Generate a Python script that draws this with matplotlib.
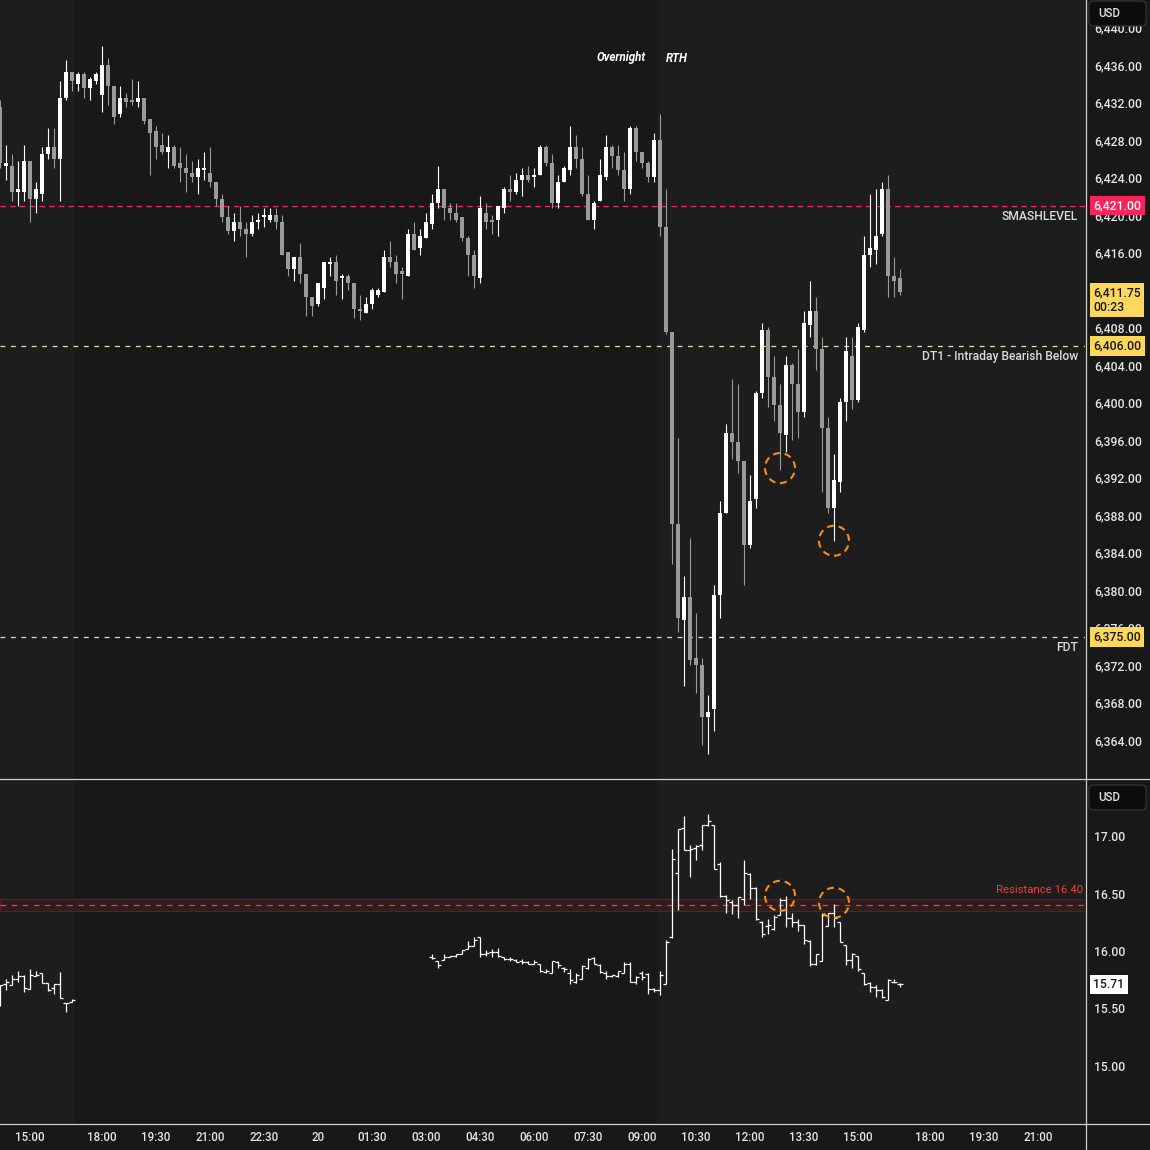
import numpy as np
import pandas as pd
import matplotlib
matplotlib.use('Agg')
import matplotlib.pyplot as plt
from matplotlib.patches import Ellipse, FancyBboxPatch
from matplotlib.lines import Line2D
from matplotlib.ticker import FuncFormatter

plt.rcParams['font.family'] = ['Roboto', 'DejaVu Sans']
plt.rcParams['lines.scale_dashes'] = False

# ---------------- data ----------------
# 10 minute bars, first bar 19 Aug 14:10, no bars during the 17:00-18:00 break
bar_start = '2025-08-19 14:10'
bar_end = '2025-08-20 22:00'

es_open = [6431.5, 6425.25, 6425.25, 6422.5, 6422.5, 6425.75, 6421.75, 6422.25, 6426.5, 6427.25,
           6426.0, 6432.5, 6435.25, 6434.0, 6435.0, 6433.5, 6434.25, 6432.75, 6436.0, 6433.75,
           6430.75, 6432.5, 6432.25, 6432.0, 6432.5, 6430.25, 6429.0, 6427.5, 6426.75, 6427.25,
           6425.5, 6425.0, 6424.5, 6424.0, 6424.75, 6424.5, 6423.5, 6421.75, 6419.75, 6418.25,
           6419.25, 6418.5, 6418.0, 6419.25, 6419.75, 6419.5, 6420.0, 6419.25, 6416.0, 6414.25,
           6415.5, 6413.75, 6411.25, 6410.5, 6412.25, 6414.75, 6415.0, 6413.25, 6413.5, 6412.75,
           6410.0, 6409.5, 6410.5, 6411.5, 6411.75, 6415.5, 6415.0, 6414.0, 6413.5, 6418.0,
           6416.5, 6417.5, 6419.0, 6421.25, 6422.75, 6420.75, 6420.25, 6419.75, 6417.5, 6415.75,
           6413.25, 6420.25, 6419.5, 6419.5, 6420.75, 6422.75, 6422.5, 6423.75, 6424.25, 6424.0,
           6424.25, 6427.25, 6425.5, 6421.25, 6423.5, 6424.75, 6427.25, 6426.0, 6422.25, 6419.5,
           6421.5, 6424.0, 6427.25, 6426.25, 6424.75, 6422.75, 6429.25, 6426.75, 6425.5, 6424.0,
           6428.0, 6418.75, 6407.5, 6387.0, 6376.75, 6379.25, 6372.75, 6372.0, 6366.5, 6367.25,
           6379.5, 6388.25, 6396.75, 6395.75, 6393.75, 6384.75, 6389.75, 6401.0, 6407.75, 6402.75,
           6399.75, 6396.5, 6404.0, 6402.0, 6399.0, 6408.25, 6409.75, 6405.75, 6397.25, 6388.75,
           6391.5, 6400.0, 6405.0, 6400.25, 6407.75, 6415.75, 6416.25, 6418.0, 6422.75, 6413.5,
           6413.25]
es_high = [6432.25, 6427.5, 6426.5, 6425.75, 6427.5, 6425.75, 6423.5, 6427.25, 6429.25, 6429.25,
           6434.25, 6436.5, 6435.25, 6435.25, 6435.25, 6434.75, 6435.25, 6438.0, 6436.75, 6433.75,
           6433.75, 6433.0, 6434.5, 6434.25, 6432.5, 6430.25, 6429.5, 6428.75, 6428.5, 6427.5,
           6427.25, 6426.5, 6425.75, 6426.0, 6426.75, 6427.25, 6423.5, 6422.25, 6421.0, 6420.25,
           6421.0, 6419.25, 6420.0, 6420.25, 6420.75, 6420.75, 6420.75, 6420.0, 6416.0, 6415.5,
           6417.0, 6413.75, 6411.25, 6412.75, 6415.0, 6415.5, 6415.75, 6413.75, 6413.75, 6412.75,
           6411.5, 6411.25, 6412.25, 6412.25, 6416.25, 6417.25, 6415.75, 6414.5, 6418.5, 6419.25,
           6418.5, 6420.25, 6422.25, 6425.25, 6422.75, 6421.25, 6421.25, 6419.75, 6417.75, 6416.25,
           6422.0, 6421.25, 6420.0, 6421.0, 6423.0, 6424.25, 6424.5, 6425.0, 6425.25, 6425.0,
           6427.5, 6427.5, 6426.5, 6424.25, 6425.25, 6429.5, 6428.5, 6427.25, 6424.25, 6421.5,
           6426.0, 6428.5, 6427.5, 6427.5, 6426.75, 6429.5, 6429.5, 6426.75, 6425.75, 6428.75,
           6430.75, 6422.75, 6407.5, 6396.25, 6381.5, 6385.5, 6377.5, 6372.75, 6368.75, 6380.5,
           6389.5, 6397.75, 6402.5, 6402.0, 6393.75, 6392.25, 6401.25, 6408.5, 6408.0, 6405.0,
           6402.0, 6405.0, 6404.25, 6405.75, 6409.75, 6413.0, 6411.25, 6407.0, 6398.5, 6394.5,
           6400.5, 6407.0, 6407.0, 6408.5, 6417.75, 6422.25, 6422.75, 6423.5, 6424.25, 6415.5,
           6414.25]
es_low = [6425.0, 6423.75, 6421.5, 6421.0, 6421.5, 6419.25, 6420.25, 6421.5, 6426.0, 6425.0,
          6421.5, 6432.25, 6433.25, 6433.25, 6432.5, 6432.25, 6434.0, 6431.0, 6431.75, 6429.75,
          6430.5, 6431.5, 6431.75, 6431.5, 6429.75, 6424.25, 6426.0, 6426.5, 6425.0, 6425.0,
          6423.5, 6422.5, 6423.5, 6422.25, 6423.75, 6423.0, 6421.0, 6419.25, 6418.0, 6417.25,
          6417.75, 6415.5, 6417.75, 6418.5, 6418.75, 6419.25, 6418.5, 6415.75, 6413.5, 6413.0,
          6412.75, 6409.25, 6409.25, 6410.25, 6411.0, 6413.5, 6411.5, 6411.0, 6412.0, 6409.0,
          6408.75, 6409.5, 6410.0, 6411.25, 6411.75, 6414.5, 6412.75, 6411.0, 6413.5, 6416.25,
          6415.75, 6417.5, 6418.5, 6420.75, 6419.5, 6419.5, 6419.25, 6417.25, 6413.5, 6412.25,
          6412.75, 6418.5, 6418.0, 6417.75, 6420.25, 6421.5, 6422.25, 6422.0, 6423.5, 6423.0,
          6424.25, 6425.25, 6420.75, 6420.75, 6423.5, 6424.25, 6425.0, 6422.0, 6419.5, 6418.5,
          6421.5, 6423.75, 6425.0, 6424.25, 6421.5, 6422.25, 6425.75, 6425.0, 6423.5, 6423.5,
          6417.75, 6407.25, 6382.75, 6375.5, 6369.75, 6372.0, 6369.0, 6363.5, 6362.5, 6365.0,
          6377.0, 6388.25, 6394.0, 6392.5, 6380.5, 6384.5, 6388.75, 6400.5, 6399.5, 6398.0,
          6392.75, 6394.75, 6396.0, 6396.25, 6398.5, 6407.0, 6403.5, 6390.5, 6388.25, 6385.25,
          6390.5, 6398.0, 6399.25, 6400.0, 6407.5, 6414.5, 6414.75, 6417.75, 6411.25, 6411.25,
          6411.5]
es_close = [6425.5, 6425.5, 6422.5, 6422.75, 6425.75, 6421.75, 6422.75, 6426.5, 6427.25, 6426.0,
            6432.5, 6435.25, 6434.25, 6435.0, 6433.5, 6434.5, 6435.0, 6436.0, 6433.75, 6430.5,
            6432.5, 6432.0, 6432.0, 6432.5, 6430.0, 6428.75, 6427.25, 6426.75, 6427.25, 6425.25,
            6425.0, 6424.5, 6424.0, 6425.0, 6425.0, 6423.5, 6421.75, 6419.75, 6418.25, 6419.25,
            6418.5, 6418.0, 6419.25, 6419.5, 6420.0, 6420.0, 6419.25, 6415.75, 6414.25, 6415.5,
            6413.75, 6411.25, 6410.25, 6412.75, 6415.0, 6415.0, 6413.0, 6413.5, 6412.75, 6410.0,
            6409.75, 6410.5, 6412.0, 6412.0, 6415.5, 6415.0, 6413.75, 6413.75, 6418.0, 6416.25,
            6417.75, 6419.25, 6421.25, 6422.75, 6420.75, 6420.25, 6419.5, 6417.5, 6415.75, 6413.5,
            6420.75, 6419.25, 6419.25, 6421.0, 6422.75, 6422.5, 6423.75, 6424.25, 6423.75, 6424.25,
            6427.25, 6425.5, 6421.25, 6423.5, 6425.0, 6427.25, 6426.0, 6422.25, 6419.5, 6421.25,
            6424.25, 6427.25, 6426.25, 6424.75, 6422.75, 6429.25, 6426.75, 6425.5, 6424.0, 6428.0,
            6418.75, 6407.5, 6387.0, 6377.0, 6379.25, 6372.5, 6372.0, 6366.5, 6367.0, 6379.5,
            6388.25, 6396.75, 6395.75, 6393.75, 6384.75, 6389.5, 6401.0, 6407.75, 6402.75, 6399.75,
            6396.75, 6404.0, 6402.0, 6399.0, 6408.5, 6409.75, 6405.75, 6397.25, 6388.75, 6391.75,
            6400.0, 6405.5, 6400.25, 6408.0, 6415.75, 6416.5, 6417.75, 6422.75, 6413.5, 6413.0,
            6411.75]

# volatility index, same bar clock; no prints between 16:20 and 03:10
gap = [np.nan] * 59
vix_open = ([15.60, 15.71, 15.70, 15.76, 15.78, 15.67, 15.78, 15.81, 15.72, 15.68, 15.71, 15.55, 15.56]
            + gap +
            [15.95, 15.91, 15.92, 15.95, 15.96, 15.97, 16.02, 16.04, 16.12, 15.97, 15.99, 15.99, 15.95,
             15.93, 15.92, 15.91, 15.90, 15.89, 15.89, 15.82, 15.81, 15.90, 15.85, 15.81, 15.73, 15.76,
             15.85, 15.94, 15.88, 15.81, 15.78, 15.78, 15.81, 15.89, 15.73, 15.81, 15.80, 15.67, 15.66,
             15.71, 16.12, 16.68, 17.07, 16.88, 16.90, 16.92, 17.10, 17.10, 16.76, 16.48, 16.43, 16.40,
             16.45, 16.67, 16.55, 16.25, 16.22, 16.19, 16.31, 16.44, 16.29, 16.25, 16.23, 16.09, 15.89,
             15.91, 16.22, 16.33, 16.25, 16.05, 15.92, 15.96, 15.81, 15.72, 15.69, 15.66, 15.57, 15.73,
             15.71])
vix_high = ([15.70, 15.76, 15.79, 15.83, 15.79, 15.84, 15.83, 15.81, 15.72, 15.71, 15.82, 15.55, 15.58]
            + gap +
            [15.97, 15.91, 15.97, 15.96, 15.97, 16.01, 16.09, 16.12, 16.12, 16.01, 16.02, 16.03, 15.95,
             15.95, 15.93, 15.93, 15.91, 15.92, 15.89, 15.84, 15.91, 15.91, 15.86, 15.84, 15.81, 15.88,
             15.94, 15.95, 15.89, 15.83, 15.79, 15.83, 15.90, 15.90, 15.78, 15.83, 15.81, 15.68, 15.83,
             16.10, 16.89, 17.06, 17.17, 16.92, 16.92, 17.10, 17.19, 17.10, 16.77, 16.49, 16.44, 16.47,
             16.79, 16.68, 16.56, 16.26, 16.28, 16.31, 16.46, 16.48, 16.33, 16.28, 16.23, 16.10, 15.97,
             16.33, 16.33, 16.41, 16.25, 16.05, 15.98, 15.96, 15.81, 15.73, 15.70, 15.67, 15.76, 15.76,
             15.72])
vix_low = ([15.52, 15.66, 15.70, 15.73, 15.64, 15.67, 15.78, 15.72, 15.65, 15.63, 15.59, 15.47, 15.56]
           + gap +
           [15.93, 15.85, 15.92, 15.95, 15.95, 15.97, 16.02, 16.04, 15.95, 15.96, 15.95, 15.95, 15.92,
            15.91, 15.90, 15.89, 15.89, 15.89, 15.82, 15.81, 15.81, 15.85, 15.82, 15.71, 15.72, 15.76,
            15.84, 15.89, 15.81, 15.76, 15.77, 15.77, 15.81, 15.73, 15.71, 15.75, 15.63, 15.64, 15.62,
            15.71, 16.11, 16.36, 16.88, 16.64, 16.79, 16.88, 17.09, 16.71, 16.47, 16.33, 16.32, 16.29,
            16.40, 16.45, 16.27, 16.12, 16.15, 16.18, 16.31, 16.21, 16.21, 16.17, 16.06, 15.87, 15.88,
            15.91, 16.22, 16.21, 16.08, 15.88, 15.85, 15.83, 15.70, 15.64, 15.60, 15.59, 15.57, 15.72,
            15.69])
vix_close = ([15.70, 15.73, 15.76, 15.78, 15.68, 15.79, 15.79, 15.72, 15.66, 15.71, 15.59, 15.55, 15.57]
             + gap +
             [15.94, 15.88, 15.95, 15.96, 15.97, 16.01, 16.04, 16.10, 15.97, 15.98, 15.99, 15.96, 15.93,
              15.93, 15.90, 15.90, 15.89, 15.90, 15.83, 15.83, 15.91, 15.88, 15.84, 15.75, 15.79, 15.87,
              15.93, 15.89, 15.82, 15.78, 15.79, 15.83, 15.89, 15.73, 15.77, 15.77, 15.67, 15.66, 15.79,
              16.08, 16.80, 17.06, 16.88, 16.89, 16.91, 17.10, 17.13, 16.71, 16.48, 16.44, 16.40, 16.47,
              16.68, 16.55, 16.28, 16.15, 16.23, 16.30, 16.44, 16.29, 16.25, 16.23, 16.10, 15.89, 15.97,
              16.31, 16.33, 16.29, 16.08, 15.92, 15.97, 15.84, 15.71, 15.69, 15.66, 15.60, 15.75, 15.73,
              15.71])

levels = [6421.0, 6406.0, 6375.0]
level_names = ['SMASHLEVEL', 'DT1 - Intraday Bearish Below', 'FDT']
resistance = 16.40
resistance_band = (16.35, 16.45)

last_price = 6411.75
countdown = '00:23'
last_vix = 15.71

# marked swing points (time, price / vix)
marks_time = ['2025-08-20 12:50', '2025-08-20 14:20']
marks_es = [6393.0, 6385.25]
marks_vix = [16.48, 16.42]

# price scale labels (6,412.00 sits fully under the last price tag)
price_ticks = [6364, 6368, 6372, 6376, 6380, 6384, 6388, 6392, 6396, 6400, 6404, 6408,
               6416, 6420, 6424, 6428, 6432, 6436, 6440]
vix_ticks = [15.0, 15.5, 16.0, 16.5, 17.0]

tick_times = ['2025-08-19 15:00', '2025-08-19 18:00', '2025-08-19 19:30', '2025-08-19 21:00',
              '2025-08-19 22:30', '2025-08-20 00:00', '2025-08-20 01:30', '2025-08-20 03:00',
              '2025-08-20 04:30', '2025-08-20 06:00', '2025-08-20 07:30', '2025-08-20 09:00',
              '2025-08-20 10:30', '2025-08-20 12:00', '2025-08-20 13:30', '2025-08-20 15:00',
              '2025-08-20 18:00', '2025-08-20 19:30', '2025-08-20 21:00']
tick_labels = ['15:00', '18:00', '19:30', '21:00', '22:30', '20', '01:30', '03:00', '04:30',
               '06:00', '07:30', '09:00', '10:30', '12:00', '13:30', '15:00', '18:00', '19:30', '21:00']

# ---------------- style ----------------
BG = '#181818'
RTH_BG = '#1d1d1d'
TICK = '#e4e4e4'
LABEL = '#dadada'
UP = '#ffffff'
DOWN = '#9a9a9a'
PINK = '#f7245a'
YELLOW = '#fdd85d'
PALE = '#e9dea6'
ORANGE = '#ff8a14'
WEIGHT = 'medium'

clock = pd.date_range(bar_start, bar_end, freq='10min')
clock = clock[clock.hour != 17]
pos = pd.Series(np.arange(len(clock)), index=clock)

W, H = 1150, 1150
fig = plt.figure(figsize=(11.5, 11.5), dpi=100, facecolor=BG)


def frame(l, t, r, b):
    return [l / W, 1 - b / H, (r - l) / W, (b - t) / H]


ax = fig.add_axes(frame(0, 0, 1085, 778))
ax2 = fig.add_axes(frame(0, 779, 1085, 1123))
xmax = 1085 / 6
for a in (ax, ax2):
    a.set_facecolor(BG)
    a.set_xlim(0, xmax)
    for s in a.spines.values():
        s.set_visible(False)
    # regular trading hours get the lighter background
    a.axvspan(0, pos['2025-08-19 16:20'] - 0.5, color=RTH_BG, lw=0, zorder=0)
    a.axvspan(pos['2025-08-20 09:30'] - 0.5, xmax, color=RTH_BG, lw=0, zorder=0)

ax.set_ylim(6359.94, 6442.93)
ax2.set_ylim(14.504, 17.496)

# ---- candles
o, h, l, c = (np.array(v) for v in (es_open, es_high, es_low, es_close))
x = np.arange(len(o))
col = np.where(c >= o, UP, DOWN)
ax.vlines(x, l, h, colors=col, lw=0.8, zorder=3)
ax.bar(x, np.maximum(np.abs(c - o), 0.12), bottom=np.minimum(o, c), width=0.82,
       color=col, lw=0, zorder=3)

# ---- levels
level_colors = [PINK, PALE, PALE]
level_dash = [(4, 3), (3.5, 4), (3.5, 4)]
for lv, name, lc, ds in zip(levels, level_names, level_colors, level_dash):
    ax.axhline(lv, color=lc, lw=0.9, dashes=ds, zorder=2)
    ax.annotate(name, xy=(1, lv), xycoords=ax.get_yaxis_transform(), xytext=(-7, -4),
                textcoords='offset pixels', ha='right', va='top', fontsize=8.7, color=LABEL,
                fontweight=WEIGHT, zorder=6)

# ---- volatility bars
vo, vh, vl, vc = (np.array(v, dtype=float) for v in (vix_open, vix_high, vix_low, vix_close))
vx = np.arange(len(vo))
ok = ~np.isnan(vo)
ax2.vlines(vx[ok], vl[ok], vh[ok], color='white', lw=0.9, zorder=3)
ax2.hlines(vo[ok], vx[ok] - 0.45, vx[ok], color='white', lw=0.9, zorder=3)
ax2.hlines(vc[ok], vx[ok], vx[ok] + 0.45, color='white', lw=0.9, zorder=3)

ax2.axhspan(*resistance_band, fc='#311c1c', ec='#552323', lw=0.8, zorder=1)
ax2.axhline(resistance, color='#e0493e', lw=0.9, dashes=(4, 4), zorder=2)
ax2.annotate('Resistance 16.40', xy=(1, resistance), xycoords=ax2.get_yaxis_transform(),
             xytext=(-2, 10), textcoords='offset pixels', ha='right', va='bottom',
             fontsize=8.2, color='#e8413a', zorder=6)

# ---- circled swing points
mx = [pos[t] for t in marks_time]
for xi, yi in zip(mx, marks_es):
    ax.add_patch(Ellipse((xi, yi), 5, 30 * (6442.93 - 6359.94) / 778, fill=False,
                         ec=ORANGE, lw=1.5, ls=(0, (5, 3.5)), zorder=5))
for xi, yi in zip(mx, marks_vix):
    ax2.add_patch(Ellipse((xi, yi), 5, 30 * (17.496 - 14.504) / 344, fill=False,
                          ec=ORANGE, lw=1.5, ls=(0, (5, 3.5)), zorder=5))

# ---- axes ticks
ax.yaxis.tick_right()
ax.set_yticks(price_ticks)
ax.yaxis.set_major_formatter(FuncFormatter(lambda v, p: f'{v:,.2f}'))
ax.tick_params(axis='y', length=0, pad=6.5, labelsize=8.8, labelcolor=TICK)
ax.set_xticks([])

ax2.yaxis.tick_right()
ax2.set_yticks(vix_ticks)
ax2.yaxis.set_major_formatter(FuncFormatter(lambda v, p: f'{v:.2f}'))
ax2.tick_params(axis='y', length=0, pad=6.5, labelsize=8.8, labelcolor=TICK)
ax2.set_xticks([pos[t] for t in tick_times])
ax2.set_xticklabels(tick_labels)
ax2.tick_params(axis='x', length=0, pad=6, labelsize=8.3, labelcolor=TICK)
for t in ax.get_yticklabels() + ax2.get_yticklabels() + ax2.get_xticklabels():
    t.set_fontweight(WEIGHT)


def tag(a, y, s, fc, tc, dy=0):
    a.annotate(s, xy=(1, y), xycoords=a.get_yaxis_transform(), xytext=(6.0, dy),
               textcoords='offset points', ha='left', va='center', fontsize=8.8, color=tc,
               zorder=10, annotation_clip=False, linespacing=1.15, fontweight=WEIGHT,
               bbox=dict(boxstyle='square,pad=0.27', fc=fc, ec='none'))


tag(ax, levels[0], f'{levels[0]:,.2f}', PINK, 'white')
tag(ax, last_price, f'{last_price:,.2f}\n{countdown}', YELLOW, '#161616', dy=-5.5)
tag(ax, levels[1], f'{levels[1]:,.2f}', YELLOW, '#161616')
tag(ax, levels[2], f'{levels[2]:,.2f}', YELLOW, '#161616')
tag(ax2, last_vix, f'{last_vix:.2f}', 'white', '#161616')

# ---- currency boxes
for top in (1, 785):
    fig.add_artist(FancyBboxPatch((1089 / W, 1 - (top + 25) / H), 57 / W, 25 / H,
                                  boxstyle='round,pad=0,rounding_size=0.004',
                                  transform=fig.transFigure, fc='#0d0d0d', ec='#383838', lw=0.8))
    fig.text(1098 / W, 1 - (top + 12.5) / H, 'USD', color=TICK, fontsize=8.3, va='center',
             fontweight=WEIGHT)

# ---- pane separators
sep = '#d0d0d0'
fig.add_artist(Line2D([0, 1], [1 - 778.5 / H] * 2, transform=fig.transFigure, color=sep, lw=0.9))
fig.add_artist(Line2D([0, 1], [1 - 1123.5 / H] * 2, transform=fig.transFigure, color=sep, lw=0.9))
fig.add_artist(Line2D([1085.5 / W] * 2, [0, 1], transform=fig.transFigure, color=sep, lw=0.9))

# ---- session labels
fig.text(621 / W, 1 - 58 / H, 'Overnight', color='white', fontsize=8.3, style='italic',
         fontweight='bold', ha='center', va='center')
fig.text(677 / W, 1 - 58 / H, 'RTH', color='white', fontsize=8.3, style='italic',
         fontweight='bold', ha='center', va='center')

fig.savefig('out.png', dpi=100, facecolor=BG)
